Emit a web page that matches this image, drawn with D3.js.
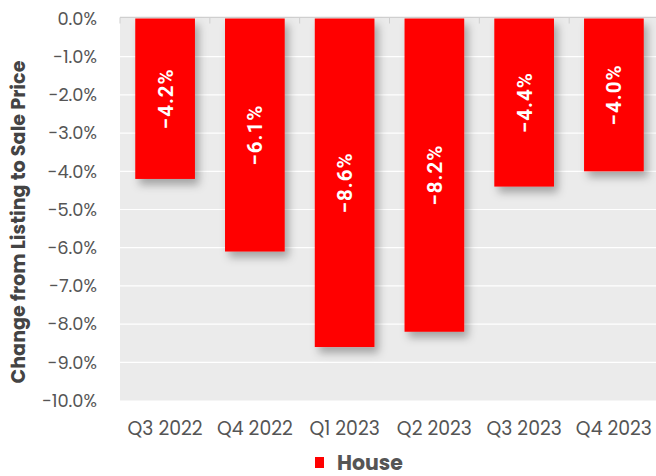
<!DOCTYPE html>
<html><head><meta charset="utf-8">
<script src="https://cdn.jsdelivr.net/npm/d3@7"></script>
<style>body{margin:0;background:#fff;}svg{display:block;}</style>
</head><body>
<script>
const categories = ["Q3 2022","Q4 2022","Q1 2023","Q2 2023","Q3 2023","Q4 2023"];
const houseValues = [-4.2,-6.1,-8.6,-8.2,-4.4,-4.0];
const yTicks = [0,-1,-2,-3,-4,-5,-6,-7,-8,-9,-10];
const seriesName = "House";

(function(){
const W=656,H=476;
const svg=d3.select("body").append("svg").attr("width",W).attr("height",H);
const defs=svg.append("defs");
const f=defs.append("filter").attr("id","sh").attr("x","-30%").attr("y","-30%").attr("width","160%").attr("height","160%");
f.append("feDropShadow").attr("dx",4).attr("dy",6).attr("stdDeviation",4).attr("flood-color","#000").attr("flood-opacity",0.3);

const pL=120,pR=659,pT=18.5,pB=400.5;
const x=d3.scaleBand().domain(categories).range([pL,pR]).paddingInner(0.335).paddingOuter(0.17);
const y=d3.scaleLinear().domain([0,-10]).range([pT,pB]);

svg.append("rect").attr("x",pL).attr("y",pT).attr("width",W-pL).attr("height",pB-pT).attr("fill","#ebebeb");
svg.append("g").selectAll("line").data(yTicks.slice(1,-1)).join("line")
  .attr("x1",pL).attr("x2",W).attr("y1",d=>y(d)).attr("y2",d=>y(d)).attr("stroke","#fff").attr("stroke-width",1.2);
svg.append("line").attr("x1",pL).attr("x2",W).attr("y1",pT-1).attr("y2",pT-1).attr("stroke","#cfcfcf").attr("stroke-width",1.5);
const bw=(pR-pL)/categories.length;
svg.append("g").selectAll("line").data(d3.range(categories.length)).join("line")
  .attr("x1",d=>pL+d*bw).attr("x2",d=>pL+d*bw).attr("y1",pT-1).attr("y2",pT+5).attr("stroke","#cfcfcf");

svg.append("g").selectAll("rect").data(houseValues).join("rect")
  .attr("x",(d,i)=>x(categories[i])).attr("width",x.bandwidth())
  .attr("y",y(0)).attr("height",d=>y(d)-y(0)).attr("fill","#ff0000").attr("filter","url(#sh)");

svg.append("g").selectAll("text").data(houseValues).join("text")
  .attr("transform",(d,i)=>`translate(${x(categories[i])+x.bandwidth()/2+7.5},${(y(0)+y(d))/2}) rotate(-90)`)
  .attr("text-anchor","middle").attr("fill","#fff").attr("font-family","Roboto, sans-serif")
  .attr("font-weight","bold").attr("font-size",20.5).attr("letter-spacing","1px")
  .text(d=>"\u2212"+Math.abs(d).toFixed(1)+"%");

const font="Poppins, 'Open Sans', sans-serif";
const ya=svg.append("g").attr("transform",`translate(${pL},0)`)
  .call(d3.axisLeft(y).tickValues(yTicks).tickSize(0).tickPadding(23).tickFormat(d=>(d<0?"\u2212":"")+Math.abs(d).toFixed(1)+"%"));
ya.select(".domain").remove();
ya.selectAll("text").attr("font-family",font).attr("font-size",17.8).attr("fill","#555");

const xa=svg.append("g").attr("transform",`translate(0,${pB})`)
  .call(d3.axisBottom(x).tickSize(0).tickPadding(21));
xa.select(".domain").remove();
xa.selectAll("text").attr("font-family",font).attr("font-size",18.8).attr("fill","#555");

svg.append("text").attr("transform","translate(25,222) rotate(-90)").attr("text-anchor","middle")
  .attr("font-family",font).attr("font-weight","bold").attr("font-size",19.2).attr("fill","#444")
  .text("Change from Listing to Sale Price");

svg.append("rect").attr("x",315).attr("y",457).attr("width",9).attr("height",11).attr("fill","#ff0000");
svg.append("text").attr("x",337).attr("y",470).attr("font-family",font).attr("font-weight","bold")
  .attr("font-size",20.5).attr("fill","#555").text(seriesName);
})();
</script>
</body></html>
